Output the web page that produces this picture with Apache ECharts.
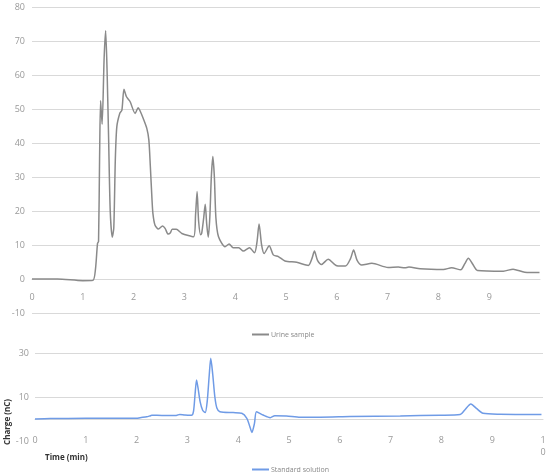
<!DOCTYPE html>
<html>
<head>
<meta charset="utf-8">
<script src="https://cdn.jsdelivr.net/npm/echarts@6/dist/echarts.min.js"></script>
<style>html,body{margin:0;padding:0;background:#fff;}#c{width:550px;height:474px;}</style>
</head>
<body>
<div id="c"></div>
<script>
const urineTime = [0,0.5,1.0,1.2,1.25,1.29,1.31,1.33,1.35,1.38,1.42,1.45,1.48,1.51,1.54,1.58,1.61,1.64,1.67,1.73,1.77,1.81,1.86,1.93,2.03,2.09,2.12,2.19,2.26,2.30,2.33,2.36,2.38,2.42,2.49,2.57,2.62,2.68,2.72,2.76,2.84,2.95,3.18,3.22,3.25,3.28,3.32,3.34,3.38,3.41,3.44,3.47,3.50,3.53,3.56,3.59,3.62,3.67,3.80,3.88,3.96,4.07,4.16,4.28,4.38,4.43,4.47,4.52,4.57,4.67,4.75,4.85,4.98,5.21,5.44,5.51,5.56,5.62,5.70,5.83,6.00,6.17,6.27,6.33,6.40,6.49,6.69,7.01,7.21,7.34,7.42,7.64,8.10,8.26,8.44,8.52,8.59,8.67,8.77,9.28,9.47,9.70,9.99];
const urineCharge = [0,0,-0.5,-0.4,3,10.5,11,35,52.5,45.5,65,73,60,40,20,12.3,15,35,44.8,48.8,49.7,55.8,53.6,52.2,48.7,50.4,49.7,47.2,44.3,40.9,33,24,19.3,15.9,14.7,15.6,14.9,13.2,13.5,14.6,14.6,13.4,12.4,19,25.7,17,13,13.4,18,22,16,12.3,18,30,36,30,18,12.5,9.5,10.3,9.2,9.2,8.2,9.2,7.7,11,16.2,10,7.5,9.8,7.1,6.6,5.3,4.9,4.0,6,8.2,5.5,4.3,5.8,3.9,3.8,6,8.5,5.5,4.1,4.6,3.4,3.5,3.3,3.5,3.0,2.8,3.3,2.7,4.5,6.1,4.5,2.5,2.3,2.9,2.0,1.9];
const stdTime = [0,0.3,1,2.0,2.07,2.2,2.26,2.30,2.5,2.78,2.85,2.95,3.08,3.12,3.15,3.18,3.21,3.25,3.30,3.35,3.39,3.43,3.46,3.50,3.54,3.58,3.64,3.90,4.07,4.17,4.23,4.27,4.32,4.36,4.49,4.63,4.72,4.95,5.22,5.61,6.20,7.19,7.97,8.37,8.46,8.58,8.69,8.82,9.15,9.97];
const stdCharge = [0,0.2,0.3,0.3,0.6,1.0,1.4,1.7,1.6,1.6,2.1,1.8,1.7,3.5,11,17.7,14,7.9,4,2.9,8,20,27.6,20,10.1,5,3.3,2.9,2.6,0.3,-3.5,-6.1,-2,3.3,1.8,0.6,1.5,1.4,0.8,0.8,1.1,1.4,1.7,2.0,4.1,6.8,4.8,2.6,2.2,2.1];

const pairs = (a, b) => a.map((t, i) => [t, b[i]]);
const font = 'Open Sans';
const lblColor = '#999';
const gridColor = '#d9d9d9';

const chart = echarts.init(document.getElementById('c'));
chart.setOption({
  animation: false,
  textStyle: {fontFamily: font},
  grid: [
    {left: 32, right: 10, top: 7, bottom: 161},
    {left: 35, right: 7, top: 353, bottom: 33}
  ],
  legend: [
    {data: ['Urine sample'], left: 247, top: 326, itemWidth: 17, itemHeight: 2, itemGap: 2,
     textStyle: {fontSize: 7, color: '#888', fontFamily: font, padding: [0, 0, 0, -3]}, icon: 'rect'},
    {data: ['Standard solution'], left: 247, top: 461, itemWidth: 17, itemHeight: 2, itemGap: 2,
     textStyle: {fontSize: 7, color: '#888', fontFamily: font, padding: [0, 0, 0, -3]}, icon: 'rect'}
  ],
  graphic: [
    {type: 'text', left: 45, top: 454,
     style: {text: 'Time (min)', font: 'bold 8px "Open Sans"', fill: '#333'}},
    {type: 'text', x: 8, y: 422, rotation: Math.PI / 2,
     style: {text: 'Charge (nC)', font: 'bold 8px "Open Sans"', fill: '#333', align: 'center', verticalAlign: 'middle'}}
  ],
  xAxis: [
    {type: 'value', gridIndex: 0, min: 0, max: 10, interval: 1, offset: -34,
     axisLine: {show: true, onZero: false, lineStyle: {color: gridColor}},
     axisTick: {show: false}, splitLine: {show: false},
     axisLabel: {fontSize: 9, color: lblColor, margin: 14, fontFamily: font,
       formatter: v => v === 10 ? '' : String(v)}},
    {type: 'value', gridIndex: 1, min: 0, max: 10, interval: 1, offset: -22,
     axisLine: {show: true, onZero: false, lineStyle: {color: gridColor}},
     axisTick: {show: false}, splitLine: {show: false},
     axisLabel: {fontSize: 9, color: lblColor, margin: 15, fontFamily: font, lineHeight: 12, verticalAlign: 'top',
       formatter: v => v === 10 ? '1\n0' : String(v)}}
  ],
  yAxis: [
    {type: 'value', gridIndex: 0, min: -10, max: 80, interval: 10,
     axisLine: {show: false}, axisTick: {show: false},
     splitLine: {lineStyle: {color: gridColor}},
     axisLabel: {fontSize: 9, color: lblColor, margin: 7, fontFamily: font}},
    {type: 'value', gridIndex: 1, min: -10, max: 30, interval: 20,
     axisLine: {show: false}, axisTick: {show: false},
     splitLine: {lineStyle: {color: ['rgba(0,0,0,0)', gridColor, gridColor]}},
     axisLabel: {fontSize: 9, color: lblColor, margin: 6, fontFamily: font}}
  ],
  series: [
    {name: 'Urine sample', type: 'line', xAxisIndex: 0, yAxisIndex: 0,
     data: pairs(urineTime, urineCharge), symbol: 'none', smooth: 0.25,
     lineStyle: {color: '#8a8a8a', width: 1.5}, itemStyle: {color: '#8a8a8a'}},
    {name: 'Standard solution', type: 'line', xAxisIndex: 1, yAxisIndex: 1,
     data: pairs(stdTime, stdCharge), symbol: 'none', smooth: 0.25,
     lineStyle: {color: '#6f9be6', width: 1.5}, itemStyle: {color: '#6f9be6'}}
  ]
});
</script>
</body>
</html>
